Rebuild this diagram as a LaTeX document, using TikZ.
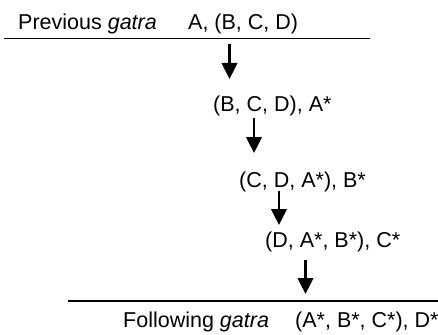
\documentclass[tikz,border=0pt]{standalone}
\usepackage{fontspec}
\setmainfont{Liberation Sans}
\usetikzlibrary{arrows.meta}
\begin{document}
\begin{tikzpicture}[x=1pt,y=-1pt,
  lbl/.style={anchor=base west,inner sep=0pt,font=\fontsize{21.5}{25}\selectfont},
  rule/.style={line width=1.8pt},
  flow/.style={line width=2.6pt,-{Triangle[width=15.5pt,length=16pt]}}]
\useasboundingbox (0,0) rectangle (438,334);
\node[lbl] (prevl) at (18,30) {Previous \textit{gatra}};
\node[lbl] (prevs) at (188,30) {A, (B, C, D)};
\coordinate (l1a) at (4,38.5);
\coordinate (l1b) at (370,38.5);
\draw[rule] (l1a) -- (l1b);
\node[lbl] (s2) at (213,111) {(B, C, D), A*};
\node[lbl] (s3) at (239,187) {(C, D, A*), B*};
\node[lbl] (s4) at (265,247) {(D, A*, B*), C*};
\coordinate (l2a) at (68,301);
\coordinate (l2b) at (438,301);
\draw[rule] (l2a) -- (l2b);
\node[lbl] (folll) at (123,327) {Following \textit{gatra}};
\node[lbl] (folls) at (295,327) {(A*, B*, C*), D*};
\coordinate (a1s) at (229.5,44);  \coordinate (a1e) at (229.5,79);
\coordinate (a2s) at (254,118); \coordinate (a2e) at (254,153);
\coordinate (a3s) at (279,191); \coordinate (a3e) at (279,225);
\coordinate (a4s) at (305.5,260); \coordinate (a4e) at (305.5,294);
\draw[flow] (a1s) -- (a1e);
\draw[flow] (a2s) -- (a2e);
\draw[flow] (a3s) -- (a3e);
\draw[flow] (a4s) -- (a4e);
\end{tikzpicture}
\end{document}
